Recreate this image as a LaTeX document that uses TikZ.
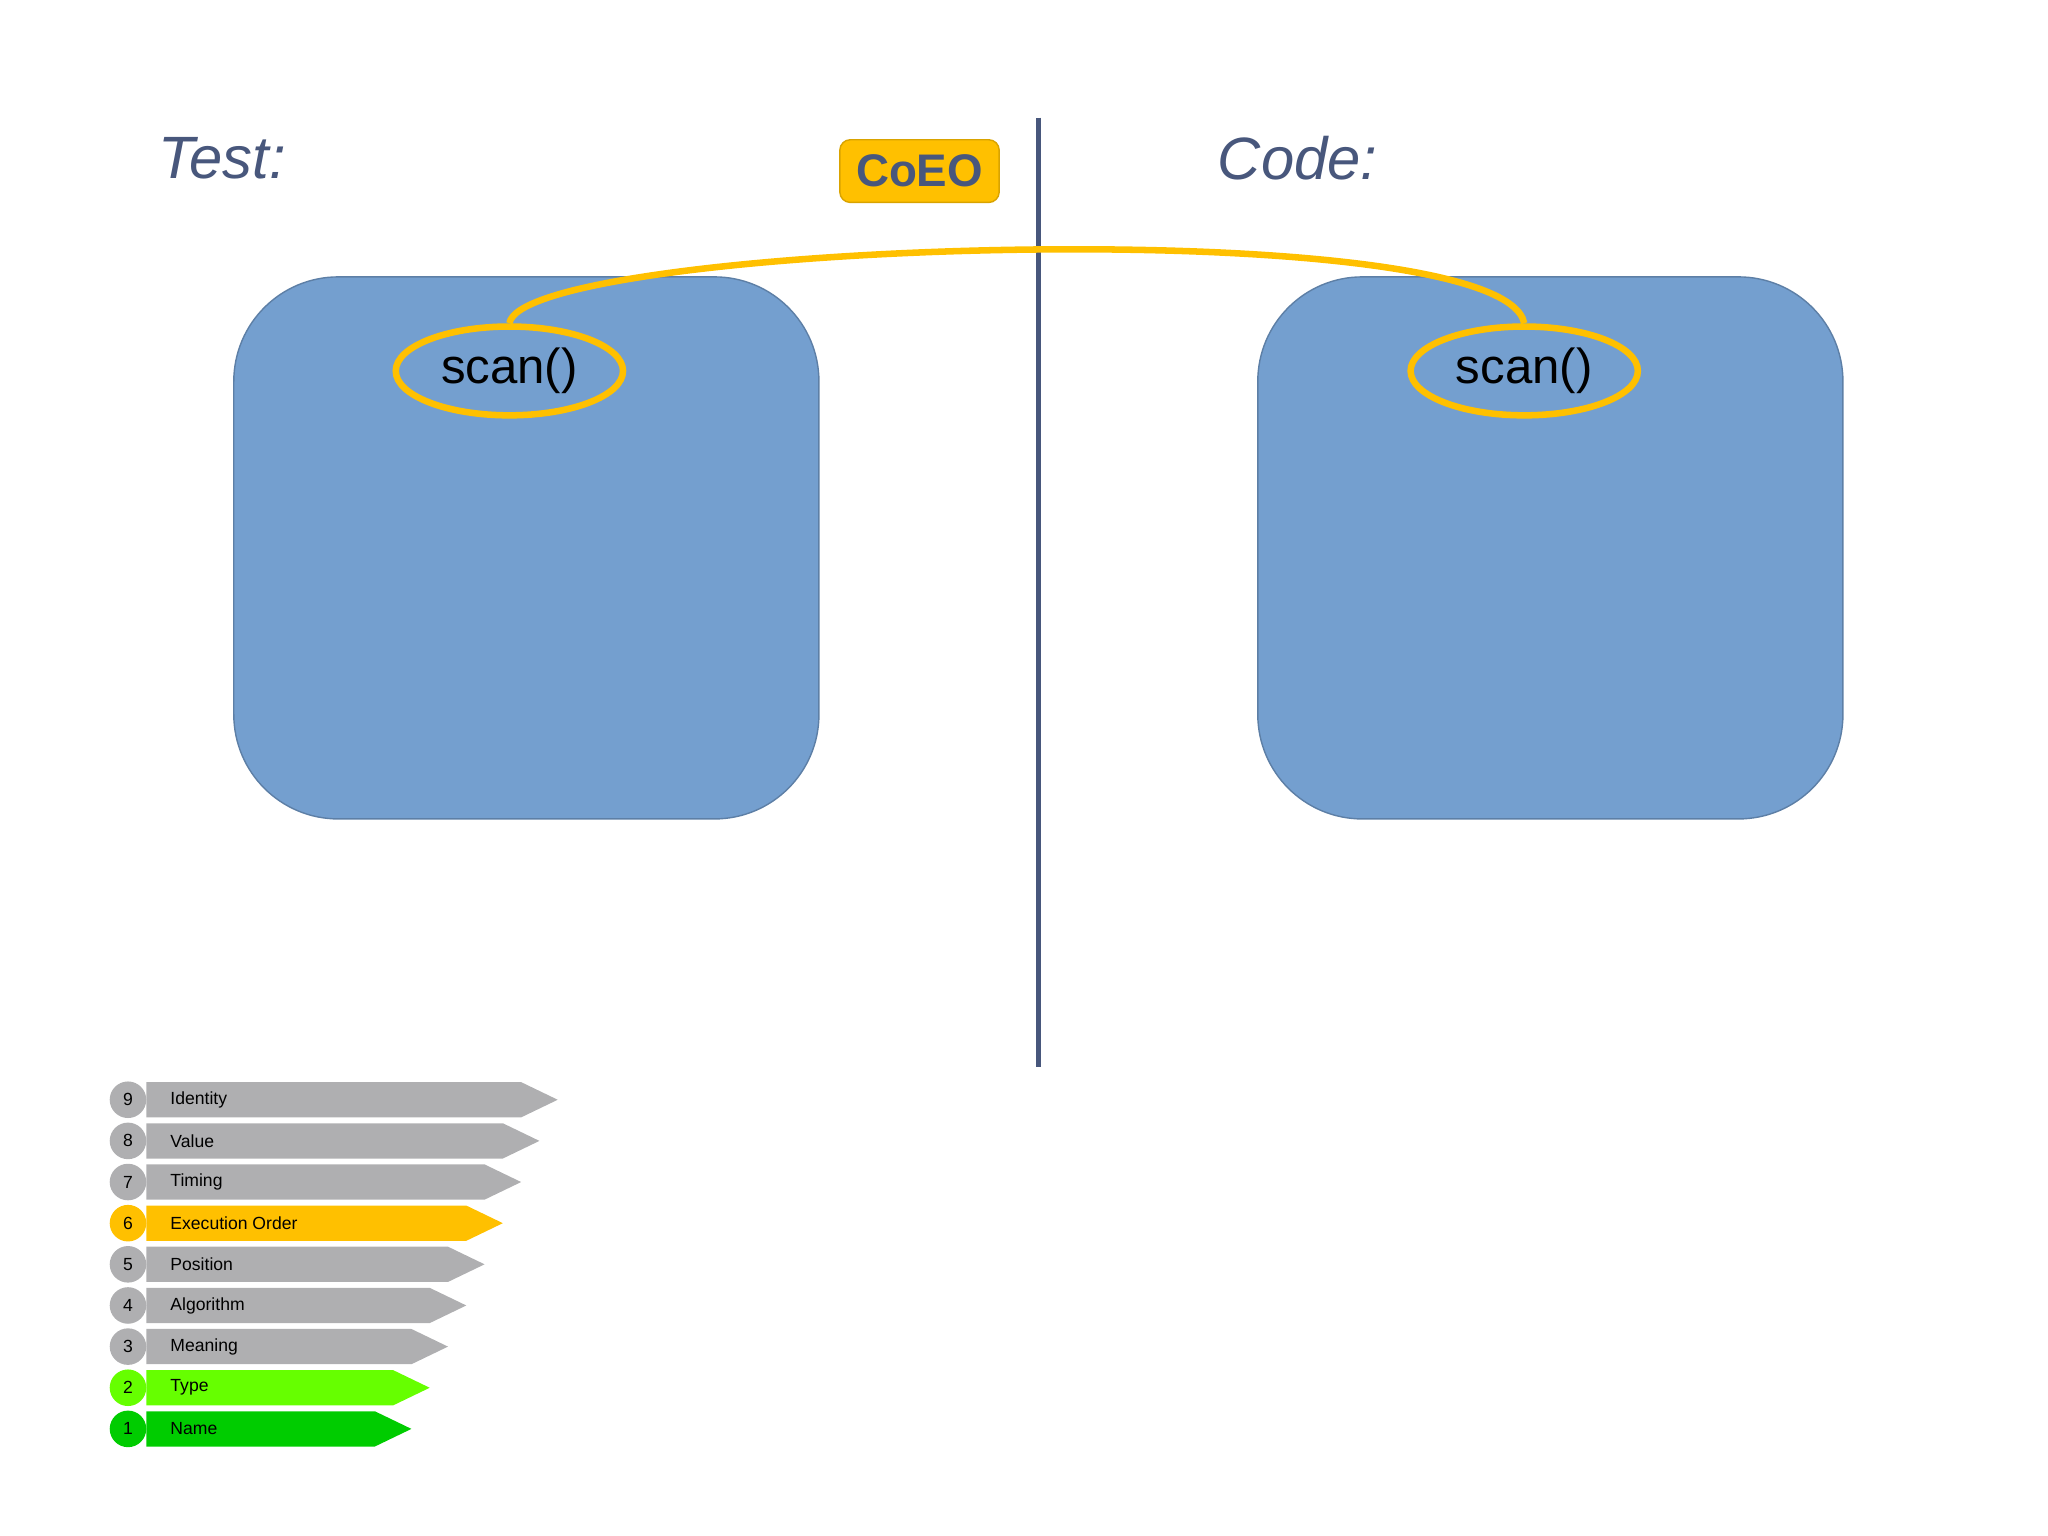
\documentclass[tikz,border=0pt]{standalone}
\usepackage{fontspec}
\setmainfont{Liberation Sans}
\usetikzlibrary{shapes.geometric, shapes.symbols, calc}
\definecolor{BoxBlue}{RGB}{116,159,207}
\definecolor{SlateBlue}{RGB}{72,87,124}
\definecolor{CoAmber}{RGB}{255,192,0}
\definecolor{LvGrey}{RGB}{175,175,177}
\definecolor{LvLime}{RGB}{102,255,0}
\definecolor{LvGreen}{RGB}{0,204,0}
\newcommand{\px}{0.013061cm}
\tikzset{side/.style={rectangle, rounded corners=80*\px, fill=BoxBlue, draw=BoxBlue!80!black, thin, minimum width=448*\px, minimum height=415*\px}}
\tikzset{call/.style={ellipse, draw=CoAmber, line width=5*\px, minimum width=174*\px, minimum height=68*\px, font=\fontsize{14}{14}\selectfont, inner sep=0pt}}
\tikzset{heading/.style={font=\fontsize{17}{17}\selectfont\itshape, text=SlateBlue, anchor=west}}
\tikzset{lvnum/.style={circle, minimum size=28*\px, inner sep=0pt, font=\fontsize{5}{5}\selectfont}}
\tikzset{lvbar/.style={font=\fontsize{5}{5}\selectfont, anchor=west}}

\begin{document}
\begin{tikzpicture}[x=\px, y=-\px]
  \useasboundingbox (0,0) rectangle (1568,1176);

  % --- headings ---
  \node[heading] (test) at (112,121) {Test:};
  \node[heading] (code) at (923,121) {Code:};

  % --- divider ---
  \coordinate (divtop) at (795,90);
  \coordinate (divbot) at (795,817);
  \draw[SlateBlue, line width=4*\px] (divtop) -- (divbot);

  % --- test and code sides ---
  \node[side] (testbox) at (403,419.5) {};
  \node[side] (codebox) at (1187,419.5) {};
  \node[call] (testscan) at (390,284) {scan()};
  \node[call] (codescan) at (1167,284) {scan()};

  % --- execution order link ---
  \draw[CoAmber, line width=5*\px] (testscan.north) .. controls (400,185) and (1150,160) .. (codescan.north);
  \node[rectangle, rounded corners=8*\px, fill=CoAmber, draw=CoAmber!85!black, minimum width=122*\px, minimum height=48*\px, text=SlateBlue, font=\fontsize{13}{13}\selectfont\bfseries] (coeo) at (704,131) {CoEO};

  % --- levels ---
  \foreach \n/\lbl/\col in {9/Identity/LvGrey, 8/Value/LvGrey, 7/Timing/LvGrey, 6/Execution Order/CoAmber, 5/Position/LvGrey, 4/Algorithm/LvGrey, 3/Meaning/LvGrey, 2/Type/LvLime, 1/Name/LvGreen} {
    \pgfmathsetmacro{\yy}{842+(9-\n)*31.5}
    \pgfmathsetmacro{\tip}{315+(\n-1)*14}
    \fill[\col] (112,\yy-13.5) -- (\tip-28,\yy-13.5) -- (\tip,\yy) -- (\tip-28,\yy+13.5) -- (112,\yy+13.5) -- cycle;
    \node[lvnum, fill=\col] (lv\n) at (98,\yy) {\n};
    \node[lvbar] (lbl\n) at (121,\yy) {\lbl};
  }
\end{tikzpicture}
\end{document}
